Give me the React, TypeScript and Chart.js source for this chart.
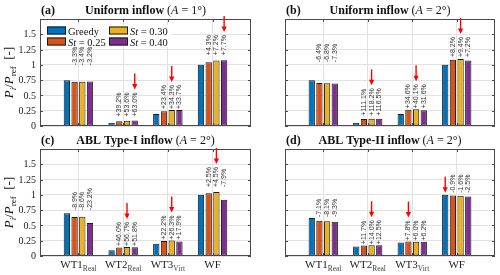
import React, { useEffect, useRef } from 'react';
import { Chart, registerables } from 'chart.js';

Chart.register(...registerables);

// ---------- data ----------
const GROUPS = ['WT1', 'WT2', 'WT3', 'WF'];
const GROUP_SUBS = ['Real', 'Real', 'Virt', ''];
const SERIES = ['Greedy', 'St = 0.25', 'St = 0.30', 'St = 0.40'];
const Y_TICKS = [0, 0.25, 0.5, 0.75, 1, 1.25, 1.5];
const Y_TICK_LABELS = ['0', '0.25', '0.5', '0.75', '1', '1.25', '1.5'];
const ARROW_GROUPS = [false, true, true, true];

// (a) Uniform inflow, A = 1°
const A_GREEDY = [0.75, 0.055, 0.195, 1.0];
const A_ST025 = [0.725, 0.077, 0.241, 1.043];
const A_ST030 = [0.725, 0.084, 0.262, 1.072];
const A_ST040 = [0.726, 0.09, 0.261, 1.077];
const A_LBL025 = ['-3.3%', '+39.2%', '+23.4%', '+4.3%'];
const A_LBL030 = ['-3.4%', '+53.6%', '+34.3%', '+7.2%'];
const A_LBL040 = ['-3.2%', '+63.0%', '+33.7%', '+7.7%'];

// (b) Uniform inflow, A = 2°
const B_GREEDY = [0.75, 0.055, 0.196, 1.0];
const B_ST025 = [0.702, 0.116, 0.264, 1.082];
const B_ST030 = [0.699, 0.12, 0.275, 1.094];
const B_ST040 = [0.695, 0.119, 0.258, 1.072];
const B_LBL025 = ['-6.4%', '+111.1%', '+34.6%', '+8.2%'];
const B_LBL030 = ['-6.8%', '+118.2%', '+40.1%', '+9.4%'];
const B_LBL040 = ['-7.3%', '+116.5%', '+31.6%', '+7.2%'];

// (c) ABL Type-I inflow, A = 2°
const C_GREEDY = [0.7, 0.095, 0.2, 1.0];
const C_ST025 = [0.638, 0.139, 0.244, 1.025];
const C_ST030 = [0.64, 0.149, 0.253, 1.045];
const C_ST040 = [0.538, 0.144, 0.236, 0.921];
const C_LBL025 = ['-8.9%', '+46.0%', '+22.2%', '+2.5%'];
const C_LBL030 = ['-8.6%', '+56.7%', '+26.3%', '+4.5%'];
const C_LBL040 = ['-23.2%', '+51.8%', '+17.9%', '-7.9%'];

// (d) ABL Type-II inflow, A = 2°
const D_GREEDY = [0.62, 0.155, 0.22, 1.0];
const D_ST025 = [0.576, 0.173, 0.237, 0.991];
const D_ST030 = [0.57, 0.177, 0.233, 0.984];
const D_ST040 = [0.562, 0.174, 0.234, 0.975];
const D_LBL025 = ['-7.1%', '+11.7%', '+7.8%', '-0.9%'];
const D_LBL030 = ['-8.1%', '+14.0%', '+6.0%', '-1.6%'];
const D_LBL040 = ['-9.3%', '+12.5%', '+6.2%', '-2.5%'];

// ---------- styles ----------
const COLORS = ['#0072BD', '#D95319', '#EDB120', '#7E2F8E'];
const SERIF = '"Liberation Serif", "DejaVu Serif", serif';
const SANS = '"Liberation Sans", "DejaVu Sans", sans-serif';
const GRID = '#e2e2e2';
const FRAME = '#4a4a4a';
const W = 500;
const H = 275;

type Panel = {
  letter: string;
  title: string;
  angle: string;
  values: number[][];
  labels: string[][];
  area: { l: number; t: number; r: number; b: number };
  yLabels: boolean;
  xLabels: boolean;
  legend: boolean;
  lift: number[];
};

const PANELS: Panel[] = [
  {
    letter: '(a)', title: 'Uniform inflow', angle: '1°',
    values: [A_GREEDY, A_ST025, A_ST030, A_ST040],
    labels: [A_LBL025, A_LBL030, A_LBL040],
    area: { l: 40, t: 19, r: 251, b: 126 }, yLabels: true, xLabels: false, legend: true,
    lift: [14, 3, 0, 4],
  },
  {
    letter: '(b)', title: 'Uniform inflow', angle: '2°',
    values: [B_GREEDY, B_ST025, B_ST030, B_ST040],
    labels: [B_LBL025, B_LBL030, B_LBL040],
    area: { l: 285, t: 19, r: 495, b: 126 }, yLabels: false, xLabels: false, legend: false,
    lift: [17, 2, 0, 1],
  },
  {
    letter: '(c)', title: 'ABL Type-I inflow', angle: '2°',
    values: [C_GREEDY, C_ST025, C_ST030, C_ST040],
    labels: [C_LBL025, C_LBL030, C_LBL040],
    area: { l: 40, t: 149, r: 251, b: 256 }, yLabels: true, xLabels: true, legend: false,
    lift: [2, 0, 0, 4],
  },
  {
    letter: '(d)', title: 'ABL Type-II inflow', angle: '2°',
    values: [D_GREEDY, D_ST025, D_ST030, D_ST040],
    labels: [D_LBL025, D_LBL030, D_LBL040],
    area: { l: 285, t: 149, r: 495, b: 256 }, yLabels: false, xLabels: true, legend: false,
    lift: [0, 0, 0, 1],
  },
];

type Run = { t: string; f: string; dy?: number; c?: string };

function runsWidth(ctx: CanvasRenderingContext2D, runs: Run[]) {
  let w = 0;
  for (const r of runs) {
    ctx.font = r.f;
    w += ctx.measureText(r.t).width;
  }
  return w;
}

function drawRuns(ctx: CanvasRenderingContext2D, runs: Run[], x: number, y: number) {
  let cx = x;
  for (const r of runs) {
    ctx.font = r.f;
    ctx.fillStyle = r.c || '#111';
    ctx.fillText(r.t, cx, y + (r.dy || 0));
    cx += ctx.measureText(r.t).width;
  }
}

function seriesRuns(name: string, size: number): Run[] {
  if (name.startsWith('St')) {
    return [
      { t: 'St', f: `italic ${size}px ${SERIF}` },
      { t: name.slice(2), f: `${size}px ${SERIF}` },
    ];
  }
  return [{ t: name, f: `${size}px ${SERIF}` }];
}

function makePlugin(p: Panel) {
  return {
    id: 'panelDecor' + p.letter,
    afterDraw(chart: any) {
      const ctx: CanvasRenderingContext2D = chart.ctx;
      const { l, t, r, b } = p.area;
      const xs = chart.scales.x;
      const ys = chart.scales.y;
      ctx.save();

      // frame
      ctx.strokeStyle = FRAME;
      ctx.lineWidth = 1;
      ctx.strokeRect(l + 0.5, t + 0.5, r - l - 1, b - t - 1);
      // inward ticks
      ctx.beginPath();
      for (const v of Y_TICKS) {
        const y = Math.round(ys.getPixelForValue(v)) + 0.5;
        ctx.moveTo(l, y); ctx.lineTo(l + 3, y);
        ctx.moveTo(r - 3, y); ctx.lineTo(r, y);
      }
      for (let g = 0; g < GROUPS.length; g++) {
        const x = Math.round(xs.getPixelForValue(g + 1)) + 0.5;
        ctx.moveTo(x, b); ctx.lineTo(x, b - 3);
        ctx.moveTo(x, t); ctx.lineTo(x, t + 3);
      }
      ctx.stroke();

      // y tick labels
      if (p.yLabels) {
        ctx.font = `10px ${SERIF}`;
        ctx.fillStyle = '#222';
        ctx.textAlign = 'right';
        ctx.textBaseline = 'middle';
        Y_TICKS.forEach((v, i) => {
          ctx.fillText(Y_TICK_LABELS[i], l - 4, ys.getPixelForValue(v) + 0.5);
        });
        // y axis title
        ctx.textAlign = 'left';
        ctx.textBaseline = 'alphabetic';
        const runs: Run[] = [
          { t: 'P', f: `italic 13px ${SERIF}` },
          { t: 'i', f: `italic 9px ${SERIF}`, dy: 3 },
          { t: '/', f: `13px ${SERIF}` },
          { t: 'P', f: `italic 13px ${SERIF}` },
          { t: 'ref', f: `9px ${SERIF}`, dy: 3 },
          { t: '  [-]', f: `13px ${SERIF}` },
        ];
        const w = runsWidth(ctx, runs);
        ctx.save();
        ctx.translate(13, (t + b) / 2);
        ctx.rotate(-Math.PI / 2);
        drawRuns(ctx, runs, -w / 2, 0);
        ctx.restore();
      }

      // x tick labels
      if (p.xLabels) {
        ctx.textAlign = 'left';
        ctx.textBaseline = 'alphabetic';
        GROUPS.forEach((name, g) => {
          const runs: Run[] = [{ t: name, f: `11px ${SERIF}`, c: '#222' }];
          if (GROUP_SUBS[g]) runs.push({ t: GROUP_SUBS[g], f: `7.5px ${SERIF}`, dy: 3, c: '#444' });
          const w = runsWidth(ctx, runs);
          const x = xs.getPixelForValue(g + 1);
          drawRuns(ctx, runs, x - w / 2, b + 12);
        });
      }

      // title
      ctx.textAlign = 'left';
      ctx.textBaseline = 'alphabetic';
      drawRuns(ctx, [{ t: p.letter, f: `bold 12px ${SERIF}` }], l + 1, t - 5);
      const titleRuns: Run[] = [
        { t: p.title + ' ', f: `bold 12px ${SERIF}` },
        { t: '(', f: `12px ${SERIF}` },
        { t: 'A', f: `italic 12px ${SERIF}` },
        { t: ' = ' + p.angle + ')', f: `12px ${SERIF}` },
      ];
      const tw = runsWidth(ctx, titleRuns);
      drawRuns(ctx, titleRuns, (l + r) / 2 - tw / 2, t - 5);

      // legend (drawn before labels so nothing gets hidden)
      if (p.legend) {
        ctx.fillStyle = '#ffffff';
        ctx.fillRect(45, 25, 126, 22);
        const cols = [47, 109];
        const rows = [26.5, 37.5];
        SERIES.forEach((name, s) => {
          const cx = cols[Math.floor(s / 2)];
          const ry = rows[s % 2];
          ctx.fillStyle = COLORS[s];
          ctx.fillRect(cx, ry, 19, 8);
          ctx.strokeStyle = '#1a1a1a';
          ctx.lineWidth = 1;
          ctx.strokeRect(cx + 0.5, ry + 0.5, 18, 7);
          ctx.textAlign = 'left';
          ctx.textBaseline = 'alphabetic';
          drawRuns(ctx, seriesRuns(name, 10.5), cx + 21, ry + 8);
        });
      }

      // value labels and arrows
      const metas = [0, 1, 2, 3].map((s) => chart.getDatasetMeta(s));
      for (let g = 0; g < GROUPS.length; g++) {
        let top = Infinity;
        for (let s = 0; s < 4; s++) top = Math.min(top, metas[s].data[g].y);
        const baseY = top - p.lift[g] - 1;
        let best = 0;
        for (let s = 1; s < 4; s++) if (p.values[s][g] > p.values[best][g]) best = s;
        for (let s = 1; s < 4; s++) {
          const el = metas[s].data[g];
          ctx.save();
          ctx.translate(el.x, baseY);
          ctx.rotate(-Math.PI / 2);
          ctx.font = `7px ${SANS}`;
          ctx.fillStyle = '#333';
          ctx.textAlign = 'left';
          ctx.textBaseline = 'middle';
          ctx.fillText(p.labels[s - 1][g], 0, 0);
          ctx.restore();
        }
        if (ARROW_GROUPS[g]) {
          const el = metas[best].data[g];
          let tip: number;
          if (best === 0) {
            tip = el.y - 2;
          } else {
            ctx.font = `7px ${SANS}`;
            tip = baseY - ctx.measureText(p.labels[best - 1][g]).width - 3;
          }
          const x = el.x;
          ctx.strokeStyle = '#ff0000';
          ctx.fillStyle = '#ff0000';
          ctx.lineWidth = 1.4;
          ctx.beginPath();
          ctx.moveTo(x, tip - 16);
          ctx.lineTo(x, tip - 4);
          ctx.stroke();
          ctx.beginPath();
          ctx.moveTo(x - 2.6, tip - 5.5);
          ctx.lineTo(x + 2.6, tip - 5.5);
          ctx.lineTo(x, tip);
          ctx.closePath();
          ctx.fill();
        }
      }
      ctx.restore();
    },
  };
}

function PanelChart({ p }: { p: Panel }) {
  const ref = useRef<HTMLCanvasElement | null>(null);
  useEffect(() => {
    if (!ref.current) return;
    const { l, t, r, b } = p.area;
    const chart = new Chart(ref.current, {
      type: 'bar',
      data: {
        datasets: SERIES.map((name, s) => ({
          label: name,
          data: p.values[s].map((v, g) => ({ x: g + 1, y: v })),
          backgroundColor: COLORS[s],
          borderColor: '#1a1a1a',
          borderWidth: 1,
          borderSkipped: false,
          categoryPercentage: 0.69,
          barPercentage: 0.82,
        })),
      },
      options: {
        responsive: false,
        animation: false,
        devicePixelRatio: 1,
        events: [],
        layout: { padding: { left: l, top: t, right: W - r, bottom: H - b } },
        plugins: {
          legend: { display: false },
          tooltip: { enabled: false },
          title: { display: false },
        },
        scales: {
          x: {
            type: 'linear',
            min: 0.14,
            max: 4.86,
            offset: false,
            afterBuildTicks: (s: any) => { s.ticks = [1, 2, 3, 4].map((v) => ({ value: v })); },
            afterFit: (s: any) => { s.height = 0; },
            ticks: { display: false },
            grid: { color: GRID, drawTicks: false, lineWidth: 1, offset: false },
            border: { display: false },
          },
          y: {
            type: 'linear',
            min: 0,
            max: 1.75,
            afterBuildTicks: (s: any) => { s.ticks = Y_TICKS.map((v) => ({ value: v })); },
            afterFit: (s: any) => { s.width = 0; },
            ticks: { display: false },
            grid: { color: GRID, drawTicks: false, lineWidth: 1 },
            border: { display: false },
          },
        },
      } as any,
      plugins: [makePlugin(p)],
    });
    return () => chart.destroy();
  }, [p]);
  return (
    <canvas
      ref={ref}
      width={W}
      height={H}
      style={{ position: 'absolute', left: 0, top: 0, width: W, height: H }}
    />
  );
}

export default function App() {
  return (
    <div style={{ position: 'fixed', left: 0, top: 0, width: W, height: H, background: '#fff' }}>
      {PANELS.map((p) => (
        <PanelChart key={p.letter} p={p} />
      ))}
    </div>
  );
}
